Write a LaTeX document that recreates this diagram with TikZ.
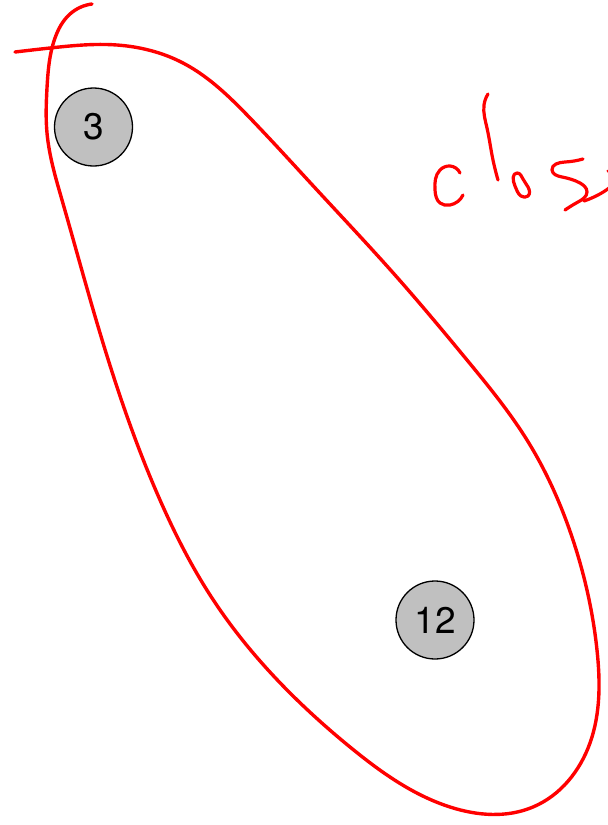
\documentclass[tikz,border=0pt]{standalone}
\usepackage{fontspec}
\setmainfont{TeX Gyre Heros}
\usetikzlibrary{hobby}
\definecolor{nodegray}{RGB}{192,192,192}
\definecolor{inkred}{RGB}{255,0,0}
\tikzset{
  vertex/.style={circle, draw=black, line width=1.3pt, fill=nodegray, minimum size=78pt, inner sep=0pt, font=\fontsize{37}{40}\selectfont},
  ink/.style={draw=inkred, line width=3.4pt, line cap=round, line join=round, use Hobby shortcut}
}
\begin{document}
\begin{tikzpicture}[x=1pt,y=-1pt]
\useasboundingbox (0,0) rectangle (608,825);
\clip (0,0) rectangle (608,825);
\fill[white] (0,0) rectangle (608,825);
\node[vertex] (n3) at (93.5,127) {3};
\node[vertex] (n12) at (435,620) {12};
% loop
\draw[ink] (15,52) .. (50,48) .. (117,45) .. (183,63) .. (250,118) .. (317,190) .. (395,275) .. (467,360) .. (527,440) .. (573,540) .. (597,650) .. (590,743) .. (533,807) .. (450,807) .. (350,747) .. (212,598) .. (160,500) .. (100,333) .. (62,200) .. (47,133) .. (47,88) .. (55,38) .. (70,14) .. (92,4);
% handwritten "close"
\draw[ink, line width=3.2pt] (460,173) .. (450,166) .. (440,170) .. (435,190) .. (440,203) .. (450,205) .. (463,195);
\draw[ink, line width=3.2pt] (488,94) .. (484,105) .. (487,128) .. (492,155) .. (498,180);
\draw[ink, line width=3.2pt, closed] (517,173) .. (515,186) .. (521,196) .. (528,196) .. (528,187) .. (523,179);
\draw[ink, line width=3.2pt] (583,159) .. (565,162) .. (552,170) .. (562,177) .. (580,183) .. (587,192) .. (578,202) .. (565,210);
\draw[ink, line width=3.2pt] (584,201) .. (598,195) .. (609,188) .. (615,178) .. (608,171);
\end{tikzpicture}
\end{document}
